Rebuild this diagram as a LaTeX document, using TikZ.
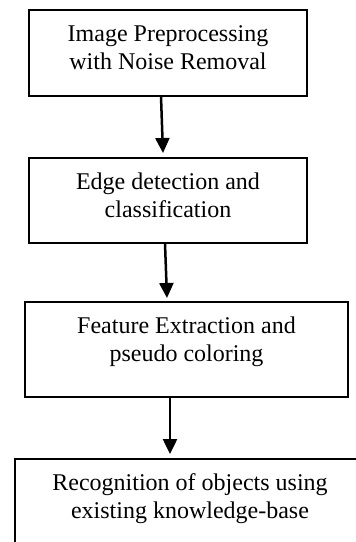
\documentclass[tikz,border=0pt]{standalone}
\usepackage{fontspec}
\setmainfont{Liberation Serif}
\usetikzlibrary{arrows.meta}
\def\boxfont{\fontsize{24}{27.5}\selectfont}

\begin{document}
\begin{tikzpicture}[x=1pt, y=-1pt,
    stage/.style={draw=black, line width=1.7pt, align=center, inner sep=0pt,
      font=\boxfont, text height=59.5pt},
    flow/.style={-{Triangle[width=14pt, length=15pt]}, line width=2.5pt, black}]
    \useasboundingbox (0,0) rectangle (356,542);
    \clip (0,0) rectangle (356,542);
    % Boxes.
    \node[stage, minimum width=278pt, text depth=26.5pt] (pre) at (168,9) [anchor=north]
      {Image Preprocessing\\with Noise Removal};
    \node[stage, minimum width=278pt, text depth=25.5pt] (edge) at (168,157) [anchor=north]
      {Edge detection and\\classification};
    \node[stage, minimum width=323pt, text depth=35.5pt] (feat) at (186.5,301) [anchor=north]
      {Feature Extraction and\\pseudo coloring};
    \node[stage, minimum width=350pt, text depth=35.5pt] (recog) at (190,458) [anchor=north]
      {Recognition of objects using\\existing knowledge-base};
    % Arrows.
    \draw[flow] ([xshift=-7pt]pre.south) -- ([xshift=-5pt, yshift=4pt]edge.north);
    \draw[flow] ([xshift=-3pt]edge.south) -- ([xshift=-19.5pt, yshift=3pt]feat.north);
    \draw[flow] ([xshift=-16.5pt]feat.south) -- ([xshift=-20pt, yshift=4pt]recog.north);
\end{tikzpicture}
\end{document}
